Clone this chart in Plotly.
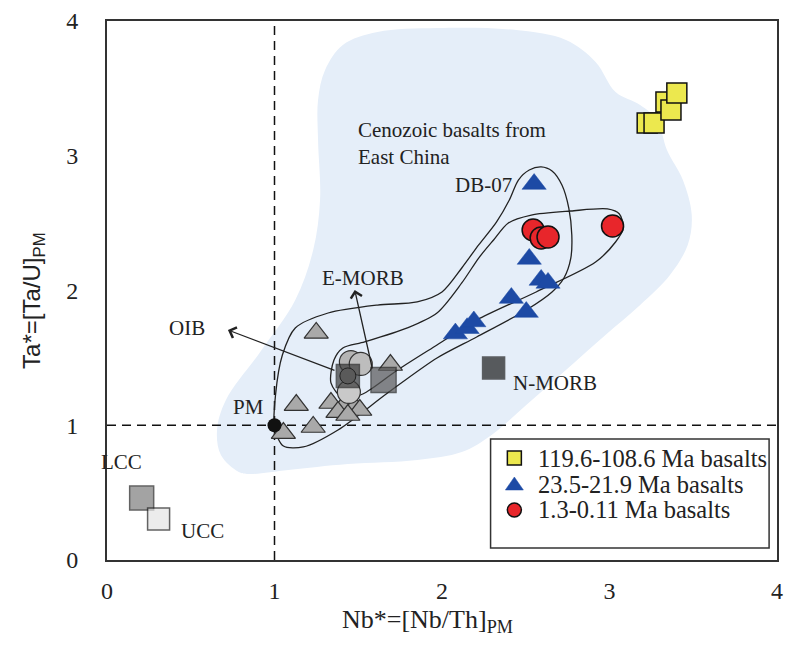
import plotly.graph_objects as go

# ---- sample groups -------------------------------------------------------
yellow_x = [3.225, 3.266, 3.337, 3.367, 3.402]
yellow_y = [3.243, 3.243, 3.399, 3.340, 3.466]

blue_x = [2.550, 2.521, 2.592, 2.633, 2.414, 2.503, 2.08, 2.15, 2.19]
blue_y = [2.790, 2.234, 2.078, 2.056, 1.944, 1.840, 1.68, 1.72, 1.77]

red_x = [2.544, 2.592, 2.633, 3.018]
red_y = [2.449, 2.390, 2.397, 2.479]

grey_tri_x = [1.249, 1.130, 1.231, 1.053, 1.692, 1.337, 1.408, 1.479, 1.509, 1.379, 1.438]
grey_tri_y = [1.685, 1.150, 0.987, 0.942, 1.447, 1.165, 1.135, 1.135, 1.113, 1.098, 1.076]

grey_dot_x = [1.456, 1.515, 1.444]
grey_dot_y = [1.469, 1.455, 1.247]

# ---- reference reservoirs ------------------------------------------------
ref_names = ["OIB", "E-MORB", "N-MORB", "LCC", "UCC"]
ref_x = [1.438, 1.651, 2.308, 0.207, 0.308]
ref_y = [1.366, 1.336, 1.425, 0.460, 0.304]
pm_x, pm_y = [1.0], [1.0]

# ---- Cenozoic East China basalt field ------------------------------------
field_x = [0.787, 0.680, 0.657, 0.710, 0.923, 1.124, 1.231, 1.272, 1.260, 1.260,
           1.302, 1.408, 1.615, 1.970, 2.444, 2.740, 2.917, 3.036, 3.183, 3.284,
           3.343, 3.438, 3.491, 3.467, 3.361, 3.183, 2.976, 2.740, 2.503, 2.296,
           2.118, 1.852, 1.438, 1.083, 0.846, 0.787]
field_y = [0.653, 0.779, 0.965, 1.187, 1.558, 1.929, 2.301, 2.672, 3.117, 3.414,
           3.636, 3.822, 3.918, 3.948, 3.933, 3.859, 3.696, 3.473, 3.377, 3.265,
           3.043, 2.820, 2.560, 2.338, 2.115, 1.892, 1.670, 1.410, 1.150, 0.928,
           0.801, 0.742, 0.712, 0.668, 0.638, 0.653]

# ---- trend envelopes -----------------------------------------------------
env_a_x = [1.000, 1.006, 1.047, 1.124, 1.320, 1.615, 1.852, 2.000, 2.118, 2.219,
           2.325, 2.402, 2.456, 2.521, 2.592, 2.657, 2.716, 2.757, 2.775, 2.769,
           2.728, 2.657, 2.503, 2.207, 1.970, 1.675, 1.379, 1.172, 1.053, 1.000]
env_a_y = [0.980, 1.224, 1.521, 1.722, 1.833, 1.892, 1.915, 1.989, 2.167, 2.338,
           2.508, 2.672, 2.820, 2.894, 2.917, 2.887, 2.783, 2.612, 2.412, 2.241,
           2.093, 1.989, 1.855, 1.655, 1.499, 1.239, 0.965, 0.839, 0.846, 0.980]

env_b_x = [1.337, 1.355, 1.408, 1.538, 1.793, 1.970, 2.118, 2.219, 2.308, 2.396,
           2.533, 2.769, 2.988, 3.059, 3.083, 3.036, 2.917, 2.562, 2.207, 1.970,
           1.734, 1.527, 1.408, 1.337]
env_b_y = [1.314, 1.484, 1.573, 1.618, 1.722, 1.833, 2.056, 2.241, 2.375, 2.501,
           2.560, 2.590, 2.605, 2.568, 2.464, 2.360, 2.211, 1.989, 1.781, 1.596,
           1.410, 1.232, 1.202, 1.314]

series_names = ["119.6-108.6 Ma basalts", "23.5-21.9 Ma basalts", "1.3-0.11 Ma basalts"]
YELLOW, BLUE, RED = "#ece84e", "#1d4aa5", "#e8262b"

SERIF = "Liberation Serif"
INK = "#222"
fig = go.Figure()

fig.add_trace(go.Scatter(x=field_x, y=field_y, mode="lines", fill="toself",
                         fillcolor="#e5eef9", line=dict(width=0, shape="spline", smoothing=1.0),
                         hoverinfo="skip"))

# PM reference lines
fig.add_trace(go.Scatter(x=[1, 1], y=[0, 4], mode="lines",
                         line=dict(color="#111", width=1.5, dash="9px,6px")))
fig.add_trace(go.Scatter(x=[0, 4], y=[1, 1], mode="lines",
                         line=dict(color="#111", width=1.5, dash="9px,6px")))

for ex, ey in ((env_a_x, env_a_y), (env_b_x, env_b_y)):
    fig.add_trace(go.Scatter(x=ex, y=ey, mode="lines",
                             line=dict(color=INK, width=1.3, shape="spline", smoothing=0.8)))

fig.add_trace(go.Scatter(x=grey_tri_x, y=grey_tri_y, mode="markers",
                         marker=dict(symbol="triangle-up", size=21, color="#a9a9a9",
                                     line=dict(color="#333", width=1.2))))
fig.add_trace(go.Scatter(x=grey_dot_x, y=grey_dot_y, mode="markers",
                         marker=dict(symbol="circle", size=23, color=["#b4b4b4", "#bdbdbd", "#c9c9c9"],
                                     line=dict(color="#333", width=1.2))))

ref_fill = ["#3a3a3a", "#575757", "#1c1c1c", "#7d7d7d", "#e4e4e4"]
ref_size = [23, 25, 22, 24, 22]
fig.add_trace(go.Scatter(x=ref_x, y=ref_y, mode="markers",
                         marker=dict(symbol="square", size=ref_size, color=ref_fill,
                                     line=dict(color=INK, width=1.5))))
# OIB symbol carries an inner disc
fig.add_trace(go.Scatter(x=ref_x[:1], y=ref_y[:1], mode="markers",
                         marker=dict(symbol="circle", size=16, color="#5a5a5a",
                                     line=dict(color=INK, width=1))))
fig.add_trace(go.Scatter(x=pm_x, y=pm_y, mode="markers",
                         marker=dict(symbol="circle", size=14, color="#111")))

fig.add_trace(go.Scatter(x=yellow_x, y=yellow_y, mode="markers", name=series_names[0],
                         marker=dict(symbol="square", size=20, color=YELLOW,
                                     line=dict(color="#111", width=1.5))))
fig.add_trace(go.Scatter(x=blue_x, y=blue_y, mode="markers", name=series_names[1],
                         marker=dict(symbol="triangle-up", size=21, color=BLUE,
                                     line=dict(color=BLUE, width=0.5))))
fig.add_trace(go.Scatter(x=red_x, y=red_y, mode="markers", name=series_names[2],
                         marker=dict(symbol="circle", size=22, color=RED,
                                     line=dict(color="#111", width=1.5))))

lab_font = dict(family=SERIF, size=21, color=INK)
labels = [
    ("Cenozoic basalts from<br>East China", 1.485, 3.09, "left"),
    ("DB-07", 2.250, 2.783, "center"),
    ("E-MORB", 1.527, 2.093, "center"),
    ("OIB", 0.479, 1.722, "center"),
    ("PM", 0.846, 1.135, "center"),
    ("N-MORB", 2.414, 1.314, "left"),
    ("LCC", 0.089, 0.727, "center"),
    ("UCC", 0.568, 0.215, "center"),
]
annotations = []
for txt, lx, ly, anc in labels:
    annotations.append(dict(x=lx, y=ly, xref="x", yref="y", text=txt, showarrow=False,
                            xanchor=anc, align="left", font=lab_font))

# arrows from the OIB and E-MORB reservoirs
annotations.append(dict(x=0.722, y=1.707, ax=1.367, ay=1.403, xref="x", yref="y",
                        axref="x", ayref="y", text="", showarrow=True, arrowhead=4,
                        arrowsize=1.7, arrowwidth=1.3, arrowcolor=INK, standoff=0))
annotations.append(dict(x=1.479, y=2.004, ax=1.586, ay=1.410, xref="x", yref="y",
                        axref="x", ayref="y", text="", showarrow=True, arrowhead=4,
                        arrowsize=1.7, arrowwidth=1.3, arrowcolor=INK, standoff=0))

# axis titles
annotations.append(dict(x=0.478, y=-0.147, xref="paper", yref="paper",
                        text="Nb*=[Nb/Th]<sub>PM</sub>", showarrow=False,
                        font=dict(family=SERIF, size=26, color=INK)))
annotations.append(dict(x=-0.137, y=0.482, xref="paper", yref="paper", textangle=-90,
                        text="Ta*=[Ta/U]<sub>PM</sub>", showarrow=False,
                        font=dict(family="Liberation Sans", size=24, color=INK)))

# legend box with symbol keys
leg_rows = [0.1892, 0.1410, 0.0928]
key_x, text_x = 0.608, 0.6405
shapes = [dict(type="rect", xref="paper", yref="paper", x0=0.5725, x1=0.9882,
               y0=0.0223, y1=0.2245, fillcolor="white", line=dict(color="#333", width=1.5),
               layer="above")]
shapes.append(dict(type="rect", xref="paper", yref="paper", xsizemode="pixel", ysizemode="pixel",
                   xanchor=key_x, yanchor=leg_rows[0], x0=-7, x1=7, y0=-7, y1=7,
                   fillcolor=YELLOW, line=dict(color="#111", width=1.5), layer="above"))
shapes.append(dict(type="path", xref="paper", yref="paper", xsizemode="pixel", ysizemode="pixel",
                   xanchor=key_x, yanchor=leg_rows[1], path="M-9,-6 L9,-6 L0,7 Z",
                   fillcolor=BLUE, line=dict(color=BLUE, width=0.5), layer="above"))
shapes.append(dict(type="circle", xref="paper", yref="paper", xsizemode="pixel", ysizemode="pixel",
                   xanchor=key_x, yanchor=leg_rows[2], x0=-7, x1=7, y0=-7, y1=7,
                   fillcolor=RED, line=dict(color="#111", width=1.5), layer="above"))
for name, ry in zip(series_names, leg_rows):
    annotations.append(dict(x=text_x, y=ry, xref="paper", yref="paper", text=name,
                            showarrow=False, xanchor="left", yanchor="middle",
                            font=dict(family=SERIF, size=24.5, color=INK)))

axis_common = dict(showgrid=False, zeroline=False, showline=True, mirror=True,
                   linecolor="#333", linewidth=2, ticks="", dtick=1,
                   ticklabeloverflow="allow",
                   tickfont=dict(family=SERIF, size=24, color=INK))

fig.update_layout(
    width=785, height=660,
    margin=dict(l=107, r=2, t=21, b=100),
    paper_bgcolor="white", plot_bgcolor="white",
    xaxis=dict(range=[0, 4], ticklabelstandoff=8, **axis_common),
    yaxis=dict(range=[0, 4], ticklabelstandoff=22, **axis_common),
    showlegend=False,
    annotations=annotations,
    shapes=shapes,
)

fig.write_html("out.html")
